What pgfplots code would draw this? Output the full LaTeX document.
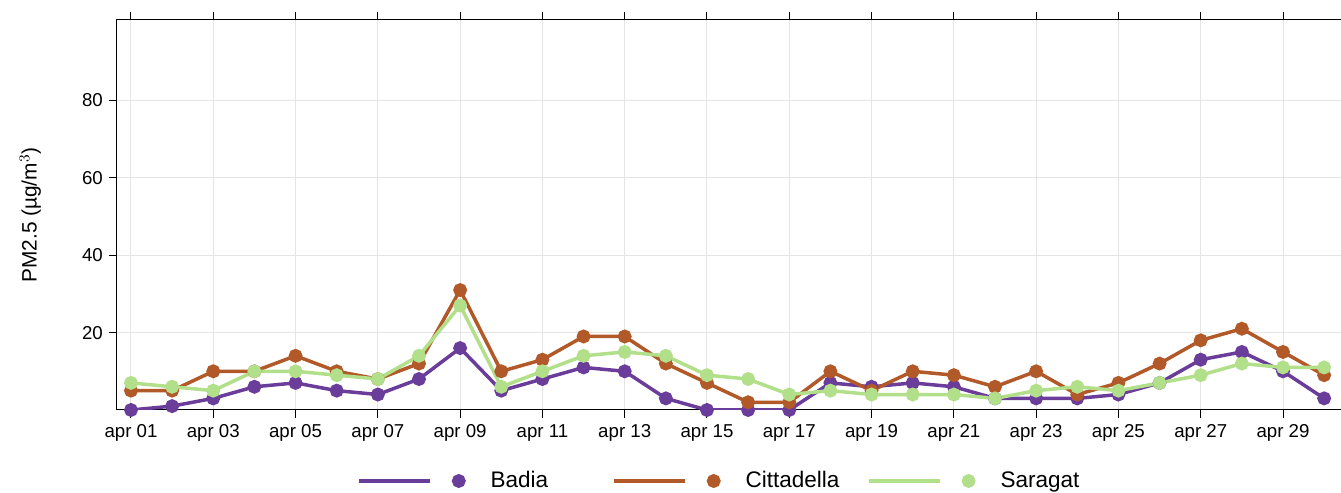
\documentclass[border=0pt]{standalone}
\usepackage{pgfplots}
\pgfplotsset{compat=1.18}
\usepackage{fontspec}
\setmainfont{Liberation Sans}
\definecolor{cB}{HTML}{6A3D9A}
\definecolor{cC}{HTML}{B15928}
\definecolor{cS}{HTML}{B2DF8A}
\begin{document}
\begin{tikzpicture}
\begin{axis}[
  scale only axis, width=734.4pt, height=234pt,
  xmin=-0.34, xmax=29.41, ymin=0, ymax=100.8,
  xtick={0,2,...,28},
  xticklabels={apr 01,apr 03,apr 05,apr 07,apr 09,apr 11,apr 13,apr 15,apr 17,apr 19,apr 21,apr 23,apr 25,apr 27,apr 29},
  ytick={20,40,60,80},
  tick align=outside, major tick length=5pt,
  xtick pos=both, ytick pos=both,
  grid=major, grid style={gray!20, line width=0.6pt},
  axis line style={line width=0.6pt},
  tick style={black, line width=0.6pt},
  ylabel={PM2.5 (µg/m$^3$)},
  ylabel style={font=\fontsize{12.5}{14}\selectfont, at={(-52pt,0.5)}, anchor=center, rotate=0},
  ticklabel style={font=\fontsize{11.2}{13}\selectfont},
  /pgf/number format/assume math mode=true,
  every axis plot/.append style={line width=2.1pt, mark=*, mark size=3.1pt},
  legend style={at={(0.5,-42.6pt)}, anchor=center, draw=none, legend columns=3,
    font=\fontsize{13.5}{15}\selectfont, column sep=0pt, inner sep=0pt,
    nodes={inner sep=0pt}},
  legend image code/.code={\draw[#1,mark=none] (-0.2cm,0)--(1.3cm,0); \fill[#1] (1.9cm,0) circle (3.1pt);},
]
\addplot[cB] coordinates {(0,0)(1,1)(2,3)(3,6)(4,7)(5,5)(6,4)(7,8)(8,16)(9,5)(10,8)(11,11)(12,10)(13,3)(14,0)(15,0)(16,0)(17,7)(18,6)(19,7)(20,6)(21,3)(22,3)(23,3)(24,4)(25,7)(26,13)(27,15)(28,10)(29,3)};
\addplot[cC] coordinates {(0,5)(1,5)(2,10)(3,10)(4,14)(5,10)(6,8)(7,12)(8,31)(9,10)(10,13)(11,19)(12,19)(13,12)(14,7)(15,2)(16,2)(17,10)(18,5)(19,10)(20,9)(21,6)(22,10)(23,4)(24,7)(25,12)(26,18)(27,21)(28,15)(29,9)};
\addplot[cS] coordinates {(0,7)(1,6)(2,5)(3,10)(4,10)(5,9)(6,8)(7,14)(8,27)(9,6)(10,10)(11,14)(12,15)(13,14)(14,9)(15,8)(16,4)(17,5)(18,4)(19,4)(20,4)(21,3)(22,5)(23,6)(24,5)(25,7)(26,9)(27,12)(28,11)(29,11)};
\legend{\hspace*{15pt}\makebox[73pt][l]{Badia},\hspace*{15pt}\makebox[73pt][l]{Cittadella},\hspace*{15pt}\makebox[60pt][l]{Saragat}}
\end{axis}
\pgfresetboundingbox
\path ([xshift=-70.2pt,yshift=-49.8pt]current axis.south west) rectangle ([yshift=12pt]current axis.north east);
\end{tikzpicture}
\end{document}
